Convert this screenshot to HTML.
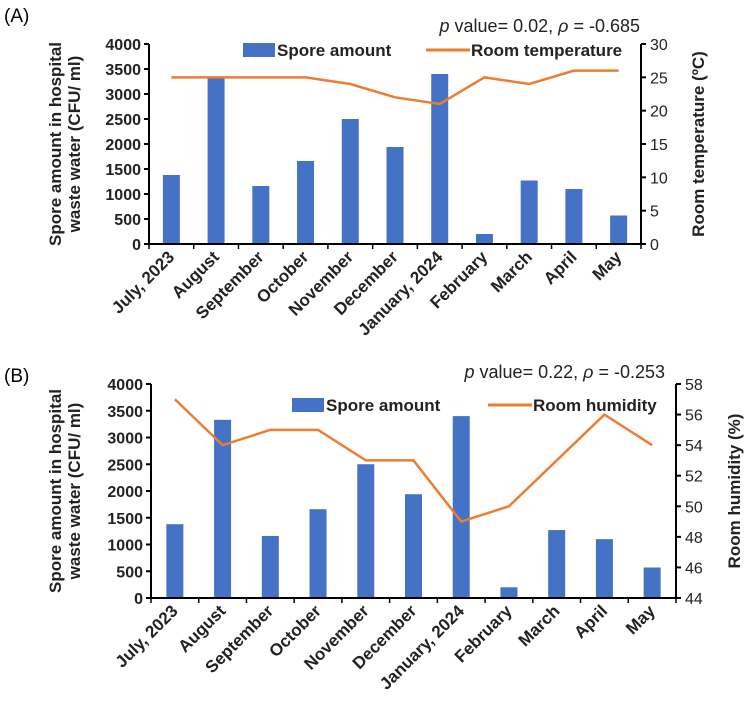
<!DOCTYPE html>
<html><head><meta charset="utf-8"><style>
html,body{margin:0;padding:0;background:#fff;width:750px;height:718px;overflow:hidden}
svg{display:block;font-family:"Liberation Sans",Arial,sans-serif}
</style></head><body>
<svg id="svg" width="750" height="718" viewBox="0 0 750 718"></svg>
<script>
const months=["July, 2023","August","September","October","November","December","January, 2024","February","March","April","May"];
const spore=[1380,3330,1160,1660,2500,1940,3400,200,1270,1100,570];
const temperature=[25,25,25,25,24,22,21,25,24,26,26];
const humidity=[57,54,55,55,53,53,49,50,53,56,54];
const leftTicks=[0,500,1000,1500,2000,2500,3000,3500,4000];
const tempTicks=[0,5,10,15,20,25,30];
const humTicks=[44,46,48,50,52,54,56,58];

const NS="http://www.w3.org/2000/svg";
const svg=document.getElementById('svg');
function mk(tag,attrs,parent,text){const e=document.createElementNS(NS,tag);for(const k in attrs)e.setAttribute(k,attrs[k]);if(text!==undefined)e.textContent=text;(parent||svg).appendChild(e);return e;}

function panel(cfg){
  const g=mk('g',{});
  
  
  const {x0,x1,yTop,yBot}=cfg;
  const band=(x1-x0)/months.length;
  const yL=v=>yBot-(v/4000)*(yBot-yTop);
  const rMin=cfg.rTicks[0],rMax=cfg.rTicks[cfg.rTicks.length-1];
  const yR=v=>yBot-((v-rMin)/(rMax-rMin))*(yBot-yTop);
  const cx=i=>x0+band*(i+0.5);
  const pl=mk('text',{x:4,y:cfg.labelY,'font-size':19,fill:'#000'},g,cfg.label);
  
  const st=mk('text',{x:cfg.statX,y:cfg.statY,'font-size':18,'text-anchor':'end',fill:'#222'},g);
  
  mk('tspan',{'font-style':'italic'},st,'p');
  mk('tspan',{},st,' value= '+cfg.p+', ');
  mk('tspan',{'font-style':'italic'},st,'ρ');
  mk('tspan',{},st,' = '+cfg.rho);
  spore.forEach((v,i)=>{
    const r=mk('rect',{x:cx(i)-8.5,y:yL(v),width:17,height:yBot-yL(v),fill:'#4472C4'},g);
    
  });
  const pts=cfg.rVals.map((v,i)=>cx(i)+','+yR(v)).join(' ');
  const pl2=mk('polyline',{points:pts,fill:'none',stroke:'#ED7D31','stroke-width':2.5},g);
  
  const ax=mk('path',{d:`M${x0},${yTop}V${yBot}H${x1}V${yTop}`,fill:'none',stroke:'#000','stroke-width':2},g);
  
  leftTicks.forEach(t=>{
    mk('line',{x1:x0-5,x2:x0,y1:yL(t),y2:yL(t),stroke:'#000','stroke-width':2},g);
    const tx=mk('text',{x:x0-8,y:yL(t)+6,'font-size':16,'font-weight':'bold','text-anchor':'end',fill:'#222'},g,t);
    
  });
  cfg.rTicks.forEach(t=>{
    mk('line',{x1:x1,x2:x1+5,y1:yR(t),y2:yR(t),stroke:'#000','stroke-width':2},g);
    const tx=mk('text',{x:x1+9,y:yR(t)+6,'font-size':16,'text-anchor':'start',fill:'#222'},g,t);
    
  });
  for(let i=0;i<=months.length;i++){
    mk('line',{x1:x0+band*i,x2:x0+band*i,y1:yBot,y2:yBot+5,stroke:'#000','stroke-width':1.5},g);
  }
  months.forEach((m,i)=>{
    const x=cx(i)+4,y=yBot+14;
    const tx=mk('text',{x:x,y:y,'font-size':17,'font-weight':'bold','text-anchor':'end',fill:'#222',transform:`rotate(-45 ${x} ${y})`},g,m);
    
  });
  const ly=(yTop+yBot)/2;
  const yt=mk('text',{transform:`translate(61 ${ly}) rotate(-90)`,'font-size':17,'font-weight':'bold','text-anchor':'middle',fill:'#222'},g);
  
  mk('tspan',{x:0,y:0},yt,'Spore amount in hospital');
  mk('tspan',{x:0,y:19},yt,'waste water (CFU/ ml)');
  const rt=mk('text',{transform:`translate(${cfg.rTitleX} ${ly}) rotate(-90)`,'font-size':17,'font-weight':'bold','text-anchor':'middle',fill:'#222'},g,cfg.rTitle);
  
  const lg=mk('g',{},g);
  
  mk('rect',{x:cfg.legX,y:cfg.legY-7,width:32,height:14,fill:'#4472C4'},lg);
  mk('text',{x:cfg.legX+34,y:cfg.legY+6,'font-size':17,'font-weight':'bold',fill:'#222'},lg,'Spore amount');
  mk('line',{x1:cfg.leg2X,x2:cfg.leg2X+44,y1:cfg.legY,y2:cfg.legY,stroke:'#ED7D31','stroke-width':3},lg);
  mk('text',{x:cfg.leg2X+45,y:cfg.legY+6,'font-size':17,'font-weight':'bold',fill:'#222'},lg,cfg.lineLabel);
}
panel({name:'panel-a',label:'(A)',labelY:22,statX:640,statY:32,p:'0.02',rho:'-0.685',
  x0:149,x1:641,yTop:44,yBot:244,rTicks:tempTicks,rVals:temperature,lineName:'temperature-line',
  rTitle:'Room temperature (ºC)',rTitleX:704,legX:243,leg2X:426,legY:50,lineLabel:'Room temperature'});
panel({name:'panel-b',label:'(B)',labelY:382,statX:665,statY:378,p:'0.22',rho:'-0.253',
  x0:151,x1:676,yTop:384,yBot:598,rTicks:humTicks,rVals:humidity,lineName:'humidity-line',
  rTitle:'Room humidity (%)',rTitleX:740,legX:292,leg2X:488,legY:405,lineLabel:'Room humidity'});
</script>
</body></html>
